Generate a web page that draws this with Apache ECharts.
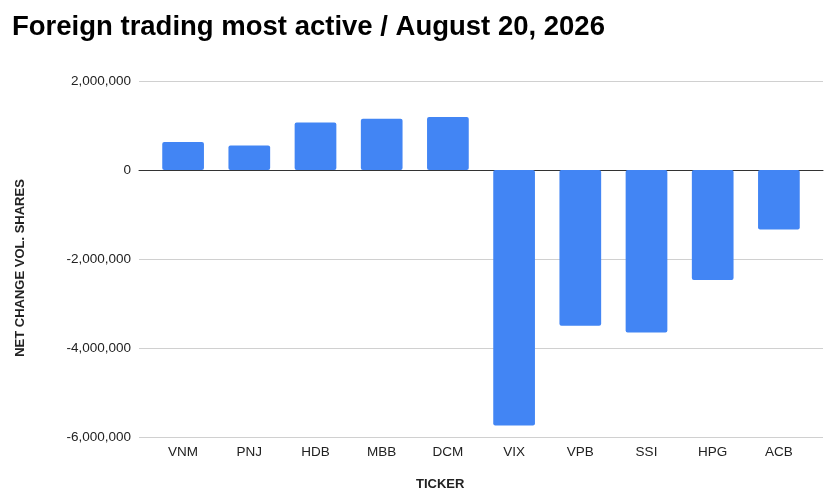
<!DOCTYPE html>
<html><head><meta charset="utf-8">
<script src="https://cdn.jsdelivr.net/npm/echarts@6/dist/echarts.min.js"></script>
<style>html,body{margin:0;padding:0;background:#fff}#c{width:840px;height:497px}</style>
</head><body><div id="c"></div>
<script>
const categories = ['VNM','PNJ','HDB','MBB','DCM','VIX','VPB','SSI','HPG','ACB'];
const netChange = [627000, 550000, 1070000, 1150000, 1190000, -5740000, -3500000, -3650000, -2470000, -1335000];
const yMin = -6000000, yMax = 2000000, yStep = 2000000;
const F = 'Liberation Sans, Arial, sans-serif';
const chart = echarts.init(document.getElementById('c'));
chart.setOption({
  animation: false,
  title: {
    text: 'Foreign trading most active / August 20, 2026',
    left: 7, top: 8,
    textStyle: {fontFamily: F, fontSize: 27.5, fontWeight: 'bold', color: '#000'}
  },
  graphic: [
    {type: 'text', left: 416, top: 478, style: {text: 'TICKER', font: 'bold 13px ' + F, fill: '#222'}},
    {type: 'text', x: 20, y: 268, rotation: Math.PI / 2, style: {text: 'NET CHANGE VOL. SHARES', align: 'center', verticalAlign: 'middle', font: 'bold 13px ' + F, fill: '#222'}}
  ],
  grid: [
    {left: 139, right: 17, top: 81, bottom: 60},
    {left: 150, right: 28, top: 81, bottom: 60}
  ],
  xAxis: [
    {gridIndex: 0, type: 'value', min: 0, max: 1, axisLabel: {show: false}, axisTick: {show: false}, splitLine: {show: false},
      axisLine: {show: true, onZero: true, lineStyle: {color: '#333', width: 1}}},
    {gridIndex: 1, type: 'category', data: categories,
      axisLine: {show: false}, axisTick: {show: false},
      axisLabel: {fontFamily: F, fontSize: 13.5, color: '#222', margin: 8}}
  ],
  yAxis: [
    {gridIndex: 0, type: 'value', min: yMin, max: yMax, interval: yStep,
      axisLine: {show: false}, axisTick: {show: false},
      axisLabel: {fontFamily: F, fontSize: 13.5, color: '#222', margin: 8,
        formatter: v => v.toLocaleString('en-US')},
      splitLine: {lineStyle: {color: '#d0d0d0', width: 1}}},
    {gridIndex: 1, type: 'value', min: yMin, max: yMax, interval: yStep, show: false, splitLine: {show: false}}
  ],
  series: [{
    type: 'bar', xAxisIndex: 1, yAxisIndex: 1, data: netChange, barWidth: '63%',
    itemStyle: {color: '#4285F4', borderRadius: 2}
  }]
});
</script></body></html>
